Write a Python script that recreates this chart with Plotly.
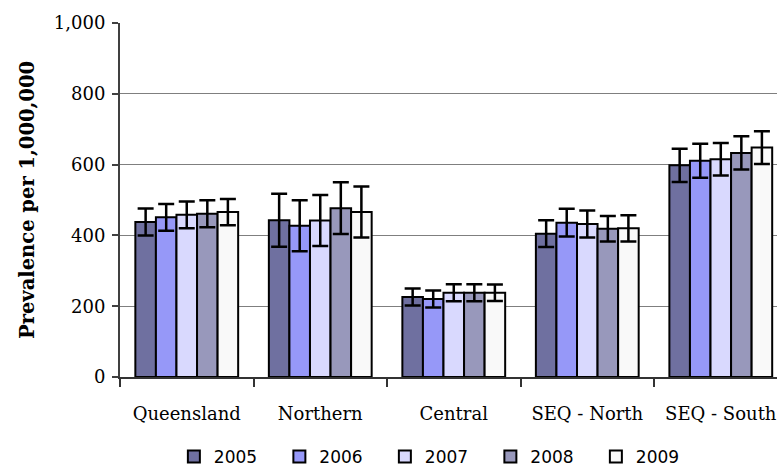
import plotly.graph_objects as go

regions = ["Queensland", "Northern", "Central", "SEQ - North", "SEQ - South"]
years = ["2005", "2006", "2007", "2008", "2009"]

v2005 = [438, 443, 226, 405, 598]
v2006 = [451, 427, 220, 436, 611]
v2007 = [458, 442, 238, 432, 615]
v2008 = [461, 477, 238, 419, 633]
v2009 = [466, 466, 238, 420, 648]

e2005 = [38, 75, 24, 38, 47]
e2006 = [38, 72, 24, 39, 48]
e2007 = [38, 72, 24, 38, 46]
e2008 = [38, 73, 24, 36, 47]
e2009 = [37, 72, 23, 37, 46]

values = [v2005, v2006, v2007, v2008, v2009]
errors = [e2005, e2006, e2007, e2008, e2009]
colors = ["#6f70a0", "#9698f8", "#d9d9fe", "#9898bb", "#f9f9f9"]

fig = go.Figure()
for yr, vals, errs, col in zip(years, values, errors, colors):
    fig.add_trace(go.Bar(
        name=yr, x=regions, y=vals,
        marker=dict(color=col, line=dict(color="black", width=2)),
        error_y=dict(type="data", array=errs, visible=True,
                     color="black", thickness=2.5, width=8),
    ))

fig.update_layout(
    width=777, height=466,
    margin=dict(l=120, r=0, t=23, b=89, autoexpand=False),
    paper_bgcolor="white", plot_bgcolor="white",
    barmode="group", bargap=0.23, bargroupgap=0,
    font=dict(family="DejaVu Serif", size=18, color="black"),
    showlegend=True,
    legend=dict(orientation="h", x=0.082, xanchor="left", y=-0.226, yanchor="middle",
                font=dict(family="DejaVu Sans", size=17, color="black"),
                entrywidth=60.5, entrywidthmode="pixels", itemwidth=30,
                bgcolor="rgba(0,0,0,0)"),
)
fig.update_xaxes(
    range=[-0.5, 4.421], tickson="boundaries", ticks="outside", ticklen=8,
    tickcolor="#333333", tickwidth=1.5, showline=True, linecolor="#333333", linewidth=2,
    showgrid=False, ticklabelstandoff=19, automargin=False,
    tickfont=dict(family="DejaVu Serif", size=18),
)
fig.update_yaxes(
    range=[0, 1000], tickvals=[0, 200, 400, 600, 800, 1000],
    ticktext=["0", "200", "400", "600", "800", "1,000"],
    ticks="outside", ticklen=6, tickcolor="#404040", tickwidth=1.5,
    showline=True, linecolor="#404040", linewidth=2, ticklabelstandoff=3,
    showgrid=True, gridcolor="#7f7f7f", gridwidth=1, zeroline=False, automargin=False,
    tickfont=dict(family="DejaVu Serif", size=18),
    title=dict(text="<b>Prevalence per 1,000,000</b>", font=dict(family="DejaVu Serif", size=19.5),
               standoff=14),
)
fig.write_html("out.html", config={"displayModeBar": False},
               post_script="document.body.style.margin='0px';")
